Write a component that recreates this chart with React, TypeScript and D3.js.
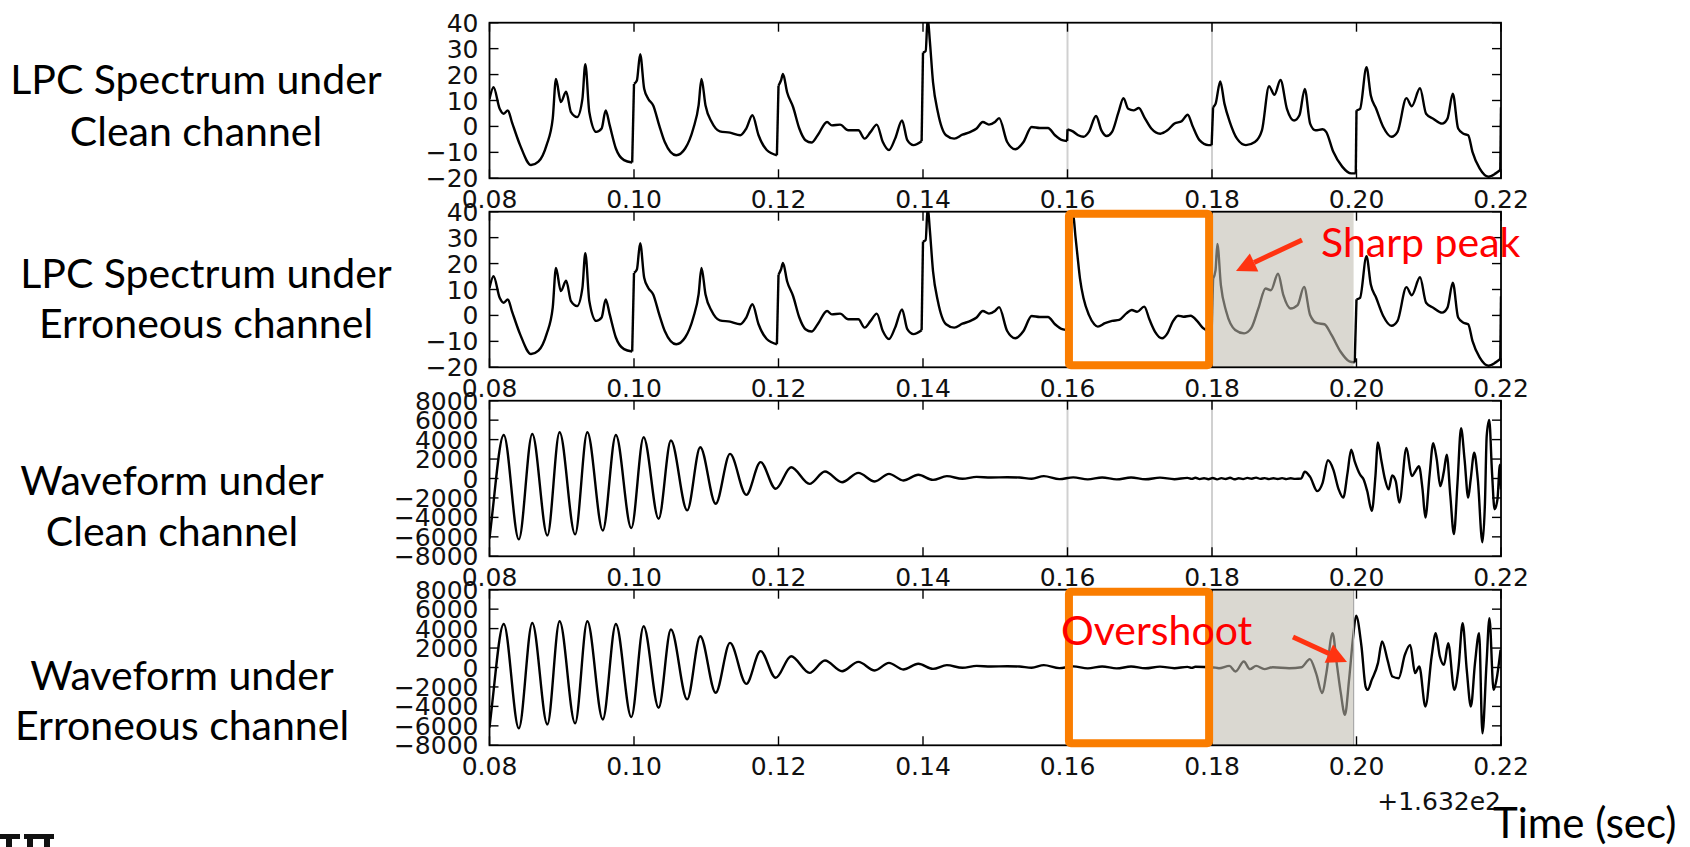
import React from 'react';
import * as d3 from 'd3';

type P = [number, number];

// ---------- axis ticks ----------
const X_TICKS = [0.08, 0.1, 0.12, 0.14, 0.16, 0.18, 0.2, 0.22];
const LPC_TICKS = [-20, -10, 0, 10, 20, 30, 40];
const WAVE_TICKS = [-8000, -6000, -4000, -2000, 0, 2000, 4000, 6000, 8000];

// ---------- LPC spectrum frames (time, dB) ----------
const lpcFrame008: P[] = [
  [0.08, 10.6], [0.08056, 15.1], [0.08141, 6.8], [0.08197, 4.9], [0.08254, 6.2], [0.0831, 1.7],
  [0.08423, -7.2], [0.08575, -14.9], [0.08677, -13.6], [0.0879, -7.2], [0.08875, 3.0], [0.0892, 18.3],
  [0.08987, 9.4], [0.09061, 13.4], [0.09128, 5.5], [0.09213, 3.6], [0.09286, 10.6], [0.09326, 24.0],
  [0.09382, 5.5], [0.09478, -2.1], [0.09552, -0.8], [0.09608, 6.2], [0.09664, 0.4], [0.09749, -8.5],
  [0.09862, -13.0], [0.09975, -13.9],
];
const lpcFrame010: P[] = [
  [0.1, 16.4], [0.1004, 17.7], [0.10085, 27.9], [0.10141, 14.5], [0.10198, 10.6], [0.10266, 8.1],
  [0.10349, 0.4], [0.10426, -6.0], [0.10584, -11.1], [0.10708, -8.5], [0.10821, -0.8], [0.10894, 8.1],
  [0.10934, 18.3], [0.1099, 8.1], [0.11075, 1.7], [0.11188, -1.9], [0.11329, -2.4], [0.1147, -3.4],
  [0.11554, -0.8], [0.11639, 4.3], [0.11724, -3.4], [0.11837, -9.1], [0.11978, -11.1],
];
const lpcFrame012: P[] = [
  [0.12, 15.7], [0.12034, 17.7], [0.12062, 20.2], [0.12119, 13.2], [0.12203, 7.4], [0.12288, -0.8],
  [0.12373, -5.3], [0.12457, -6.2], [0.12542, -3.4], [0.12672, 1.7], [0.12739, 0.4], [0.12852, 0.7],
  [0.12965, -1.5], [0.13106, -1.5], [0.13191, -4.7], [0.13275, -2.1], [0.1336, 0.7], [0.13444, -6.0],
  [0.13529, -9.1], [0.13614, -4.7], [0.1371, 2.3], [0.13783, -5.3], [0.13868, -7.2], [0.13981, -5.7],
];
const lpcFrame014: P[] = [
  [0.14, 28.5], [0.14037, 29.1], [0.14065, 42], [0.14093, 33.6], [0.14139, 17.0], [0.14206, 5.5],
  [0.14319, -3.4], [0.14432, -4.7], [0.14545, -3.2], [0.14658, -2.1], [0.14742, -0.8], [0.14827, 1.7],
  [0.14912, 0.7], [0.14996, 1.7], [0.15053, 3.2], [0.15165, -6.0], [0.15278, -8.8], [0.15391, -6.0],
  [0.15504, -0.2], [0.15617, -0.6], [0.1573, -0.6], [0.15827, -3.4], [0.15926, -5.3], [0.15995, -5.6],
];
const lpcFrame016Clean: P[] = [
  [0.16, -1.1], [0.16074, -1.9], [0.16148, -3.4], [0.16222, -4.0], [0.16296, -2.1], [0.16395, 4.0],
  [0.16469, -1.5], [0.16543, -3.7], [0.16617, -2.1], [0.16706, 5.5], [0.16775, 10.9], [0.1684, 6.8],
  [0.16914, 6.2], [0.16988, 7.1], [0.17062, 3.6], [0.1716, -0.8], [0.17284, -2.8], [0.17383, -1.5],
  [0.17481, 1.1], [0.1758, 2.0], [0.17664, 4.5], [0.17728, 0.4], [0.17827, -5.3], [0.17951, -7.2],
  [0.17995, -7.2],
];
const lpcFrame018Clean: P[] = [
  [0.18015, 7.4], [0.18049, 8.7], [0.18114, 17.3], [0.18173, 8.7], [0.18247, 1.7], [0.18346, -4.7],
  [0.18469, -7.2], [0.18593, -6.0], [0.18691, -1.5], [0.1879, 15.5], [0.18864, 12.2], [0.18948, 17.9],
  [0.19037, 6.8], [0.19136, 2.3], [0.1921, 4.3], [0.19284, 14.5], [0.19358, 1.1], [0.19432, -1.5],
  [0.19531, -1.1], [0.1958, -2.1], [0.19679, -9.8], [0.19802, -15.5], [0.19926, -18.1], [0.1999, -18.1],
];
const lpcFrame020: P[] = [
  [0.2, 6.2], [0.20049, 6.8], [0.20138, 22.8], [0.20198, 11.9], [0.20272, 6.8], [0.2037, -0.2],
  [0.20484, -4.0], [0.20568, -2.1], [0.20691, 10.9], [0.20765, 7.8], [0.20879, 14.7], [0.20963, 4.9],
  [0.21062, 3.0], [0.21185, 1.1], [0.21259, 3.0], [0.21333, 12.6], [0.21407, -0.8], [0.21481, -2.8],
  [0.21546, -3.4], [0.21605, -9.8], [0.21704, -16.2], [0.21827, -19.4], [0.21926, -18.1], [0.2199, -16.8],
];
const lpcFrame022: P[] = [[0.22, 7.4]];
const lpcFrame016Err: P[] = [
  [0.16, 42], [0.16084, 37.8], [0.16109, 30.8], [0.16138, 23.1], [0.16173, 14.2], [0.16222, 6.6],
  [0.16296, 0.2], [0.1637, -3.4], [0.1642, -4.3], [0.16519, -3.0], [0.16617, -2.1], [0.16716, -1.7],
  [0.16815, 0.8], [0.16889, 2.1], [0.16963, 1.4], [0.17062, 3.4], [0.17136, -1.7], [0.1721, -6.2],
  [0.17309, -8.8], [0.17383, -6.9], [0.17457, -2.4], [0.17531, -0.1], [0.17605, -0.5], [0.17704, -0.1],
  [0.17802, -2.4], [0.17877, -4.9], [0.17995, -6.5],
];
const lpcFrame018Err: P[] = [
  [0.18015, 14.2], [0.18049, 17.4], [0.18074, 27.6], [0.18123, 11.7], [0.18198, 1.4], [0.18321, -5.6],
  [0.18444, -6.9], [0.18543, -4.9], [0.18642, 2.7], [0.18741, 10.4], [0.18815, 9.7], [0.18914, 16.1],
  [0.18988, 7.8], [0.19086, 2.7], [0.19185, 4.0], [0.19274, 11.0], [0.19358, 0.2], [0.19457, -3.0],
  [0.19556, -3.4], [0.19654, -7.5], [0.19778, -13.9], [0.19901, -17.7], [0.19975, -18.1],
];

const lpcClean = [lpcFrame008, lpcFrame010, lpcFrame012, lpcFrame014, lpcFrame016Clean, lpcFrame018Clean, lpcFrame020, lpcFrame022];
const lpcErr = [lpcFrame008, lpcFrame010, lpcFrame012, lpcFrame014, lpcFrame016Err, lpcFrame018Err, lpcFrame020, lpcFrame022];

// ---------- waveform (time, amplitude) ----------
const waveHead: P[] = [
  [0.08, -6190], [0.0803, -4200], [0.08197, 4480], [0.08406, -6260], [0.08592, 4580], [0.08801, -5850],
  [0.0897, 4750], [0.09185, -5750], [0.09354, 4750], [0.09568, -5340], [0.09749, 4480], [0.09963, -5100],
  [0.10133, 4240], [0.10341, -4140], [0.10511, 3900], [0.10736, -3280], [0.10917, 3210], [0.11131, -2600],
  [0.11329, 2530], [0.11554, -1680], [0.11752, 1680], [0.11961, -1060], [0.12175, 1160], [0.12429, -550],
  [0.12643, 720], [0.1288, -380], [0.13106, 580], [0.13332, -310], [0.13529, 480], [0.13727, -200],
  [0.13935, 380], [0.14138, -140], [0.1433, 240], [0.14545, -30], [0.14742, 170], [0.1494, 100],
  [0.15165, 130], [0.15335, 100], [0.15504, -30], [0.15673, 240], [0.15887, -60], [0.1608, 120],
  [0.1628, -90], [0.1648, 110], [0.1668, -90], [0.1688, 100], [0.1708, -80], [0.1728, 90],
  [0.1748, -70], [0.1766, 60], [0.1772, -40], [0.1777, 70],
];
const waveTailClean: P[] = [
  [0.1783, -60], [0.1789, 30], [0.1795, -70], [0.1801, 50], [0.1807, -90], [0.1813, 40],
  [0.1819, -50], [0.1825, 70], [0.1831, -80], [0.1837, 20], [0.1843, -60], [0.1849, 60],
  [0.1855, -30], [0.1861, 90], [0.1867, -40], [0.1873, 40], [0.1879, -60], [0.1885, 30],
  [0.1891, -50], [0.1897, 40], [0.1903, -60], [0.1909, 30], [0.1915, -40], [0.19234, 0],
  [0.19284, 700], [0.19358, 170], [0.19457, -1300], [0.19531, -440], [0.19605, 1870], [0.19679, 920],
  [0.19753, -1120], [0.19817, -1970], [0.19876, 580], [0.19926, 2970], [0.19975, 1770], [0.20049, 410],
  [0.20099, -100], [0.20148, -1290], [0.20212, -3330], [0.20262, 240], [0.20296, 3710], [0.20346, 1770],
  [0.20395, -100], [0.20444, -1120], [0.20494, 310], [0.20543, -270], [0.20593, -2480], [0.20691, 3130],
  [0.20765, 240], [0.20815, 750], [0.20864, 1260], [0.20914, -1120], [0.20953, -4010], [0.21012, 410],
  [0.21062, 3640], [0.21111, 1940], [0.2116, -780], [0.2121, 750], [0.21249, 2450], [0.21299, -1800],
  [0.21348, -5710], [0.21398, -440], [0.21447, 5170], [0.21496, 1940], [0.21546, -1970], [0.2158, -100],
  [0.2163, 2650], [0.21679, -100], [0.21743, -6560], [0.21778, -2480], [0.21802, 4350], [0.21837, 6020],
  [0.21876, 580], [0.21911, -3160], [0.21951, -2140], [0.21985, 1430], [0.22, -1130],
];
const waveTailErr: P[] = [
  [0.1800, 30], [0.18097, -70], [0.1824, 170], [0.18326, -410], [0.1844, 620], [0.18526, -170],
  [0.18611, 170], [0.18726, -170], [0.1884, 30], [0.19069, -70], [0.1924, 30], [0.19354, 860],
  [0.1944, -580], [0.19526, -2640], [0.19583, -580], [0.19669, 3530], [0.19726, 450], [0.19783, -2640],
  [0.1984, -4870], [0.19897, -1270], [0.19954, 3190], [0.19994, 5320], [0.20069, 2160], [0.20126, -1960],
  [0.20154, -2300], [0.20211, -1270], [0.20297, 450], [0.20354, 2680], [0.20429, 790], [0.20497, -930],
  [0.20583, -1100], [0.20669, 1300], [0.20743, 2330], [0.20811, -580], [0.20869, 100], [0.20954, -4010],
  [0.2104, 1130], [0.21097, 3530], [0.21154, 1130], [0.21211, 270], [0.21269, 2500], [0.21354, -2300],
  [0.21411, -70], [0.21469, 4560], [0.21526, -240], [0.21583, -4010], [0.2164, 450], [0.21697, 3530],
  [0.21743, -6760], [0.218, 450], [0.2184, 5080], [0.21897, -2300], [0.21937, -1270], [0.21994, 1820],
];
const waveClean = [...waveHead, ...waveTailClean];
const waveErr = [...waveHead, ...waveTailErr];

// ---------- layout ----------
const W = 1690;
const H = 847;
const PLOT_L = 489.5;
const PLOT_R = 1501;
const PANEL_TOPS = [22.7, 211.7, 400.7, 589.7];
const PANEL_H = 155.6;
const TICK_FONT = '"DejaVu Sans", sans-serif';
const SLIDE_FONT = 'Lato, "Open Sans", sans-serif';
const GREY_LINES = [0.16, 0.18];

const x = d3.scaleLinear().domain([0.08, 0.22]).range([PLOT_L, PLOT_R]);
const fmtX = d3.format('.2f');
const fmtY = (v: number) => String(v).replace('-', '\u2212');

type PanelProps = {
  idx: number;
  kind: 'lpc' | 'wave';
  frames?: P[][];
  series?: P[];
  highlight?: boolean;
};

function Panel({ idx, kind, frames, series, highlight }: PanelProps) {
  const top = PANEL_TOPS[idx];
  const bottom = top + PANEL_H;
  const yDomain = kind === 'lpc' ? [-20, 40] : [-8000, 8000];
  const yTicks = kind === 'lpc' ? LPC_TICKS : WAVE_TICKS;
  const y = d3.scaleLinear().domain(yDomain).range([bottom, top]);
  const line = d3.line<P>().x(d => x(d[0])).y(d => y(d[1])).curve(d3.curveMonotoneX);
  const straight = d3.line<P>().x(d => x(d[0])).y(d => y(d[1]));
  const clipId = `clip${idx}`;
  const paths: string[] = [];
  if (frames) {
    frames.forEach((f, i) => {
      if (f.length > 1) paths.push(line(f) || '');
      if (i > 0) {
        const prev = frames[i - 1];
        paths.push(straight([prev[prev.length - 1], f[0]]) || '');
      }
    });
  }
  if (series) paths.push(line(series) || '');
  const tickLen = 9;
  return (
    <g>
      <defs>
        <clipPath id={clipId}>
          <rect x={PLOT_L} y={top} width={PLOT_R - PLOT_L} height={PANEL_H} />
        </clipPath>
      </defs>
      {!highlight && GREY_LINES.map(t => (
        <line key={t} x1={x(t)} x2={x(t)} y1={top} y2={bottom} stroke="#d0d0d0" strokeWidth={2} />
      ))}
      <g clipPath={`url(#${clipId})`}>
        {paths.map((d, i) => (
          <path key={i} d={d} fill="none" stroke="#000" strokeWidth={2.4} strokeLinejoin="round" />
        ))}
      </g>
      {highlight && (
        <g>
          <rect x={x(0.18)} y={top} width={x(0.1996) - x(0.18)} height={PANEL_H}
            fill="rgb(190,186,174)" fillOpacity={0.57} />
          {kind === 'wave' && (
            <line x1={x(0.1996)} x2={x(0.1996)} y1={top} y2={bottom} stroke="#aaa" strokeWidth={1.2} />
          )}
        </g>
      )}
      {X_TICKS.map(t => (
        <g key={t}>
          <line x1={x(t)} x2={x(t)} y1={bottom} y2={bottom - tickLen} stroke="#000" strokeWidth={1.4} />
          <line x1={x(t)} x2={x(t)} y1={top} y2={top + tickLen} stroke="#000" strokeWidth={1.4} />
          <text x={x(t)} y={bottom + 30} textAnchor="middle" fontFamily={TICK_FONT} fontSize={25} fill="#111">
            {fmtX(t)}
          </text>
        </g>
      ))}
      {yTicks.map(v => (
        <g key={v}>
          <line x1={PLOT_L} x2={PLOT_L + tickLen} y1={y(v)} y2={y(v)} stroke="#000" strokeWidth={1.4} />
          <line x1={PLOT_R} x2={PLOT_R - tickLen} y1={y(v)} y2={y(v)} stroke="#000" strokeWidth={1.4} />
          <text x={PLOT_L - 11} y={y(v)} dy="0.36em" textAnchor="end" fontFamily={TICK_FONT} fontSize={25} fill="#111">
            {fmtY(v)}
          </text>
        </g>
      ))}
      <rect x={PLOT_L} y={top} width={PLOT_R - PLOT_L} height={PANEL_H} fill="none" stroke="#000" strokeWidth={1.8} />
      {highlight && (
        <rect x={x(0.1602)} y={top + 2} width={x(0.1796) - x(0.1602)} height={PANEL_H - 4}
          fill="none" stroke="#FA7D00" strokeWidth={8} rx={2} />
      )}
    </g>
  );
}

type ArrowProps = { x1: number; y1: number; x2: number; y2: number };
function Arrow({ x1, y1, x2, y2 }: ArrowProps) {
  const ang = Math.atan2(y2 - y1, x2 - x1);
  const hl = 20;
  const hw = 10;
  const bx = x2 - hl * Math.cos(ang);
  const by = y2 - hl * Math.sin(ang);
  const px = -Math.sin(ang) * hw;
  const py = Math.cos(ang) * hw;
  return (
    <g>
      <line x1={x1} y1={y1} x2={bx} y2={by} stroke="#FF3311" strokeWidth={5} />
      <polygon points={`${x2},${y2} ${bx + px},${by + py} ${bx - px},${by - py}`} fill="#FF3311" />
    </g>
  );
}

const sideLabels = [
  { cx: 196, lines: ['LPC Spectrum under', 'Clean channel'], base: [94, 146] },
  { cx: 206, lines: ['LPC Spectrum under', 'Erroneous channel'], base: [288, 338] },
  { cx: 172, lines: ['Waveform under', 'Clean channel'], base: [495, 546] },
  { cx: 182, lines: ['Waveform under', 'Erroneous channel'], base: [690, 740] },
];

export default function App() {
  return (
    <svg width={W} height={H} style={{ position: 'absolute', left: 0, top: 0, background: '#fff' }}>
      <rect width={W} height={H} fill="#fff" />
      <Panel idx={0} kind="lpc" frames={lpcClean} />
      <Panel idx={1} kind="lpc" frames={lpcErr} highlight />
      <Panel idx={2} kind="wave" series={waveClean} />
      <Panel idx={3} kind="wave" series={waveErr} highlight />
      {sideLabels.map((s, i) => (
        <g key={i}>
          {s.lines.map((t, j) => (
            <text key={j} x={s.cx} y={s.base[j]} textAnchor="middle" fontFamily={SLIDE_FONT} fontSize={41} fill="#000">
              {t}
            </text>
          ))}
        </g>
      ))}
      <text x={1321} y={257} fontFamily={SLIDE_FONT} fontSize={41} fill="#FF0000">Sharp peak</text>
      <Arrow x1={1302} y1={240} x2={1236} y2={271} />
      <text x={1061} y={645} fontFamily={SLIDE_FONT} fontSize={41} fill="#FF0000">Overshoot</text>
      <Arrow x1={1293} y1={637} x2={1347} y2={662} />
      <text x={PLOT_R} y={810} textAnchor="end" fontFamily={TICK_FONT} fontSize={25} fill="#111">+1.632e2</text>
      <text x={1493} y={838} fontFamily={SLIDE_FONT} fontSize={42} fill="#000">Time (sec)</text>
      <g fill="#111">
        <rect x={0} y={834} width={20} height={5} />
        <rect x={24} y={834} width={30} height={5} />
        <rect x={6} y={834} width={6} height={13} />
        <rect x={27} y={834} width={6} height={13} />
        <rect x={44} y={834} width={6} height={13} />
      </g>
    </svg>
  );
}
